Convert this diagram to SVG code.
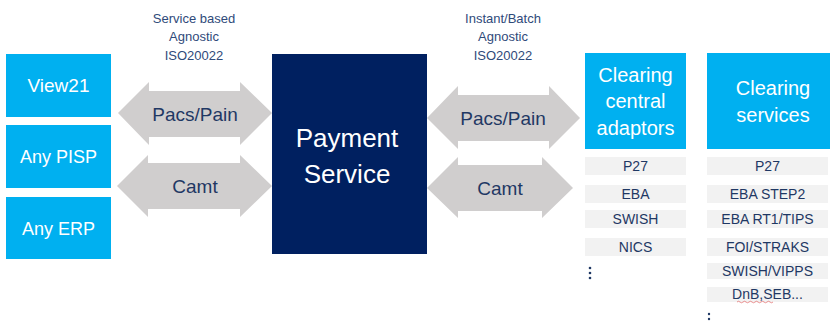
<svg xmlns="http://www.w3.org/2000/svg" width="830" height="323" viewBox="0 0 830 323">
<style>
text{font-family:"Liberation Sans",Arial,sans-serif;text-anchor:middle}
.cy{fill:#00b0f0}
.wt{fill:#ffffff}
.arr{fill:#d0cece}
.at{fill:#1f3864;font-size:19px}
.top{fill:#2f4a7a;font-size:13px}
.li{fill:#f2f2f2}
.lt{fill:#1f3864;font-size:14px}
.big{fill:#ffffff;font-size:20px}
</style>
<rect width="830" height="323" fill="#ffffff"/>
<g id="labels-left">
<text class="top" x="194" y="23">Service based</text>
<text class="top" x="194" y="41">Agnostic</text>
<text class="top" x="194" y="60">ISO20022</text>
</g>
<g id="labels-right">
<text class="top" x="503" y="23">Instant/Batch</text>
<text class="top" x="503" y="41">Agnostic</text>
<text class="top" x="503" y="60">ISO20022</text>
</g>
<g id="view21"><rect class="cy" x="6" y="54" width="105" height="63"/><text class="wt" x="58.5" y="92" font-size="19">View21</text></g>
<g id="any-pisp"><rect class="cy" x="6" y="125" width="105" height="63"/><text class="wt" x="58.5" y="163" font-size="18">Any PISP</text></g>
<g id="any-erp"><rect class="cy" x="6" y="197" width="105" height="62"/><text class="wt" x="58.5" y="235" font-size="18">Any ERP</text></g>
<g id="payment-service"><rect x="272" y="54" width="155" height="200" fill="#002060"/><text class="wt" x="347" y="147" font-size="26">Payment</text><text class="wt" x="347" y="183" font-size="26">Service</text></g>
<g id="clearing-central-adaptors"><rect class="cy" x="585" y="53" width="101" height="96"/><text class="big" x="635.5" y="82">Clearing</text><text class="big" x="635.5" y="108">central</text><text class="big" x="635.5" y="135">adaptors</text></g>
<g id="clearing-services"><rect class="cy" x="707" y="53" width="123" height="96"/><text class="big" x="773" y="95">Clearing</text><text class="big" x="773" y="122">services</text></g>
<g id="connectors">
<polygon class="arr" points="118,113 149,82 149,91 240,91 240,82 272,113 240,145 240,137 149,137 149,145"/>
<polygon class="arr" points="117,186 148,155 148,163 240,163 240,155 272,186 240,217 240,209 148,209 148,217"/>
<polygon class="arr" points="427,118 458,86 458,95 549,95 549,86 580,118 549,149 549,141 458,141 458,149"/>
<polygon class="arr" points="427,188 458,157 458,165 542,165 542,157 573,188 542,218 542,211 458,211 458,218"/>
<text class="at" x="195" y="121">Pacs/Pain</text>
<text class="at" x="195" y="193">Camt</text>
<text class="at" x="503" y="125">Pacs/Pain</text>
<text class="at" x="500" y="195">Camt</text>
</g>
<g id="adaptor-list">
<rect class="li" x="585" y="157" width="101" height="18"/><text class="lt" x="635.5" y="171">P27</text>
<rect class="li" x="585" y="185" width="101" height="18"/><text class="lt" x="635.5" y="199">EBA</text>
<rect class="li" x="585" y="210" width="101" height="18"/><text class="lt" x="635.5" y="224">SWISH</text>
<rect class="li" x="585" y="238" width="101" height="18"/><text class="lt" x="635.5" y="252">NICS</text>
<g fill="#1f3864"><circle cx="590" cy="268" r="1.3"/><circle cx="590" cy="273" r="1.3"/><circle cx="590" cy="278" r="1.3"/></g>
</g>
<g id="services-list">
<rect class="li" x="707" y="157" width="121" height="18"/><text class="lt" x="767.5" y="171">P27</text>
<rect class="li" x="707" y="185" width="121" height="18"/><text class="lt" x="767.5" y="199">EBA STEP2</text>
<rect class="li" x="707" y="210" width="121" height="18"/><text class="lt" x="767.5" y="224">EBA RT1/TIPS</text>
<rect class="li" x="707" y="238" width="121" height="18"/><text class="lt" x="767.5" y="252">FOI/STRAKS</text>
<rect class="li" x="707" y="263" width="121" height="16"/><text class="lt" x="767.5" y="276">SWISH/VIPPS</text>
<rect class="li" x="707" y="287" width="121" height="15"/><text class="lt" x="767.5" y="299">DnB,SEB...</text>
<path d="M737 302 q1.5 -1.5 3 0 t3 0 t3 0 t3 0 t3 0 t3 0 t3 0 t3 0 t3 0 t3 0 t3 0 t3 0" fill="none" stroke="#e06060" stroke-width="0.7"/>
<g fill="#1f3864"><circle cx="709" cy="314" r="1.2"/><circle cx="709" cy="319" r="1.2"/></g>
</g>
</svg>
